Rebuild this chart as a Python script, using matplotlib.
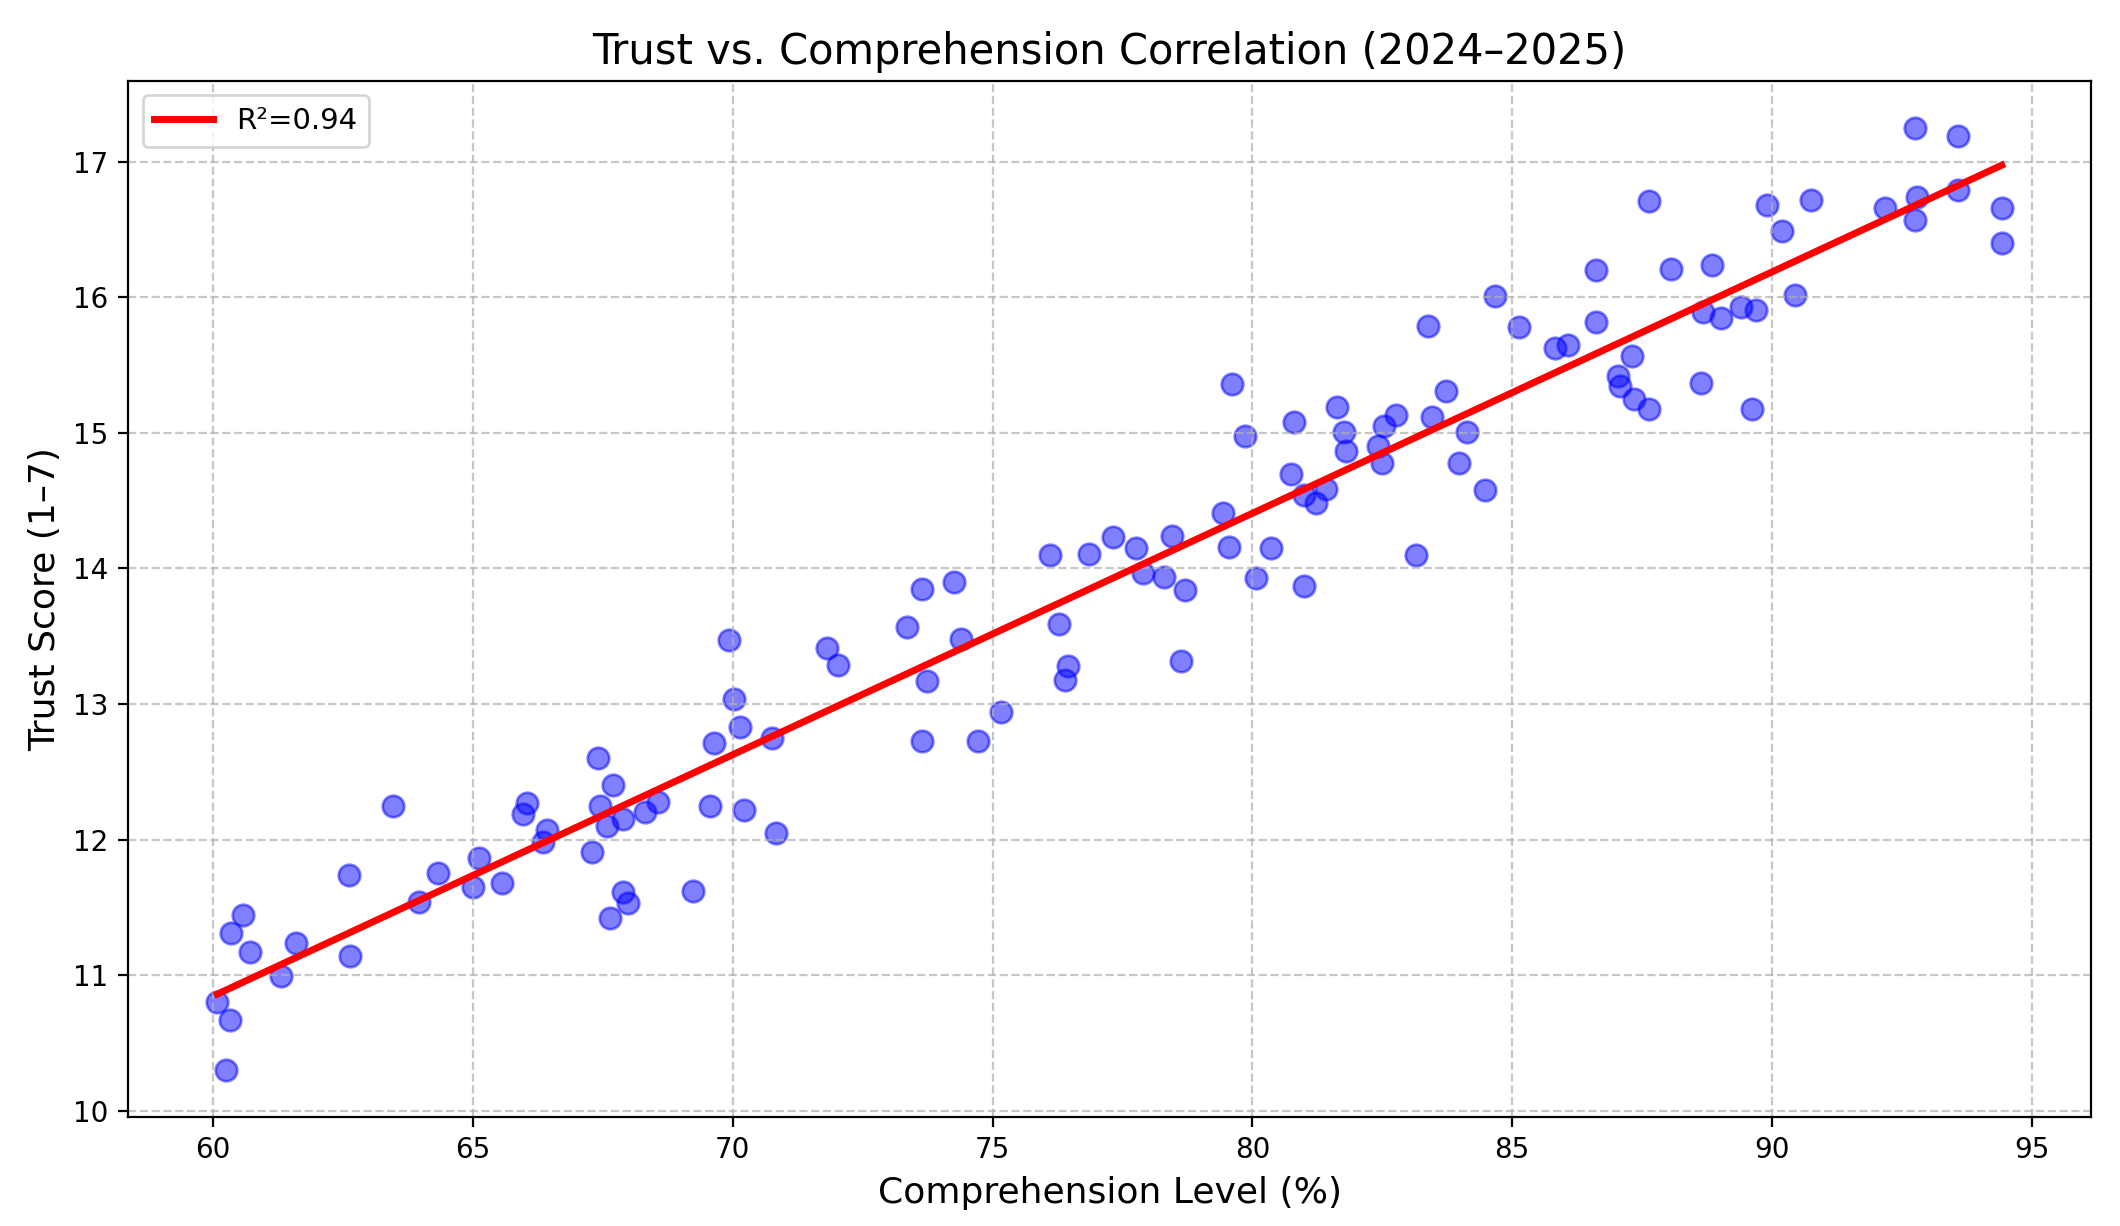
import numpy as np
import matplotlib.pyplot as plt

# comprehension level (%) and trust score
comprehension = [
    60.08, 60.33, 60.25, 60.35, 60.58, 60.71, 61.31, 61.60, 62.61, 62.64,
    63.46, 63.96, 64.32, 65.00, 65.12, 65.56, 65.97, 66.04, 66.35, 66.43,
    67.30, 67.41, 67.45, 67.58, 67.70, 67.63, 67.88, 67.88, 67.99, 68.32,
    68.57, 69.23, 69.56, 69.63, 69.92, 70.02, 70.13, 70.21, 70.75, 70.83,
    71.81, 72.03, 73.36, 73.65, 73.65, 73.73, 74.25, 74.40, 74.71, 75.17,
    76.10, 76.27, 76.39, 76.45, 76.85, 77.32, 77.76, 77.90, 78.30, 78.46,
    78.63, 78.71, 79.44, 79.54, 79.61, 79.86, 80.06, 80.35, 80.75, 80.81,
    81.00, 81.00, 81.22, 81.41, 81.62, 81.76, 81.80, 82.41, 82.50, 82.53,
    82.76, 83.15, 83.38, 83.45, 83.73, 83.98, 84.13, 84.48, 84.67, 85.13,
    85.83, 86.08, 86.62, 86.62, 87.03, 87.08, 87.30, 87.35, 87.64, 87.64,
    88.05, 88.63, 88.67, 88.84, 89.02, 89.40, 89.61, 89.69, 89.90, 90.19,
    90.44, 90.75, 92.18, 92.76, 92.78, 92.76, 93.57, 93.57, 94.42, 94.42,
]
trust = [
    10.80, 10.67, 10.30, 11.31, 11.44, 11.17, 10.99, 11.24, 11.74, 11.14,
    12.25, 11.54, 11.75, 11.65, 11.86, 11.68, 12.19, 12.27, 11.98, 12.07,
    11.91, 12.60, 12.25, 12.10, 12.40, 11.42, 12.15, 11.61, 11.53, 12.20,
    12.28, 11.62, 12.25, 12.71, 13.47, 13.04, 12.83, 12.22, 12.75, 12.05,
    13.41, 13.29, 13.57, 13.85, 12.73, 13.17, 13.90, 13.48, 12.73, 12.94,
    14.10, 13.59, 13.18, 13.28, 14.11, 14.23, 14.15, 13.97, 13.94, 14.24,
    13.32, 13.84, 14.41, 14.16, 15.36, 14.98, 13.93, 14.15, 14.70, 15.08,
    13.87, 14.54, 14.48, 14.59, 15.19, 15.01, 14.87, 14.90, 14.78, 15.05,
    15.13, 14.10, 15.79, 15.12, 15.31, 14.78, 15.01, 14.58, 16.01, 15.78,
    15.63, 15.65, 16.20, 15.82, 15.42, 15.35, 15.57, 15.25, 16.71, 15.18,
    16.21, 15.37, 15.89, 16.24, 15.85, 15.93, 15.18, 15.91, 16.68, 16.49,
    16.02, 16.72, 16.66, 17.25, 16.74, 16.57, 17.19, 16.79, 16.66, 16.40,
]
r_squared = 0.94

x = np.array(comprehension)
y = np.array(trust)
slope, intercept = np.polyfit(x, y, 1)
x_fit = np.array([x.min(), x.max()])

fig, ax = plt.subplots(figsize=(10.6, 6.13), dpi=200)
fig.subplots_adjust(left=0.0604, right=0.9863, top=0.934, bottom=0.0889)

ax.scatter(x, y, s=60, color='blue', alpha=0.5)
ax.plot(x_fit, slope * x_fit + intercept, color='red', linewidth=2.5,
        label=f'R\u00b2={r_squared:.2f}')

ax.set_title('Trust vs. Comprehension Correlation (2024\u20132025)', fontsize=15)
ax.set_xlabel('Comprehension Level (%)', fontsize=13)
ax.set_ylabel('Trust Score (1\u20137)', fontsize=13)
ax.grid(True, linestyle='--', alpha=0.7)
ax.legend(loc='upper left', fontsize=10.5)

fig.savefig('out.png', dpi=200)
